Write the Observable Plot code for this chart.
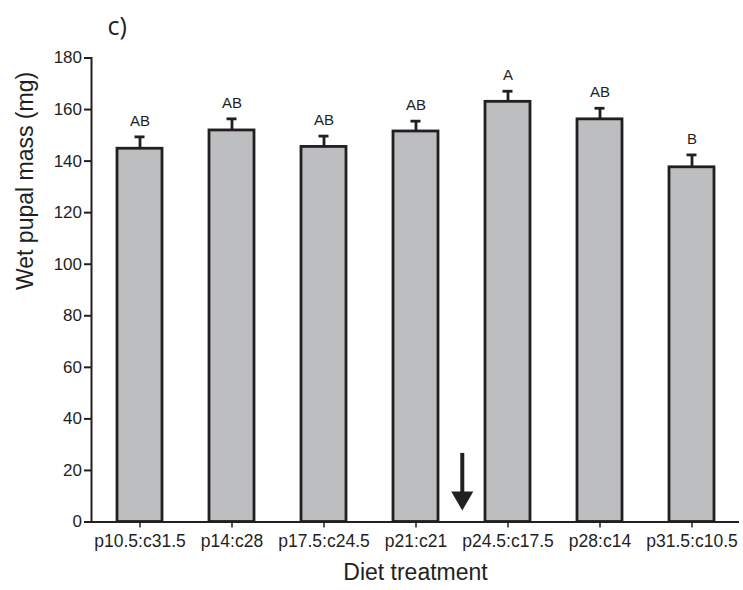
<!DOCTYPE html>
<html><head><meta charset="utf-8">
<script src="https://cdn.jsdelivr.net/npm/d3@7"></script>
<script src="https://cdn.jsdelivr.net/npm/@observablehq/plot@0.6"></script>
<style>
body{margin:0;background:#fff;}
#chart{width:743px;height:590px;}
</style></head><body><div id="chart"></div>
<script>
const treatments = ["p10.5:c31.5","p14:c28","p17.5:c24.5","p21:c21","p24.5:c17.5","p28:c14","p31.5:c10.5"];
const means = [144.8, 151.9, 145.5, 151.5, 163.0, 156.2, 137.6];
const errors = [4.6, 4.5, 4.2, 4.0, 4.1, 4.3, 4.8];
const letters = ["AB","AB","AB","AB","A","AB","B"];
const yTicks = [0,20,40,60,80,100,120,140,160,180];
const panelLabel = "c)";
const xTitle = "Diet treatment";
const yTitle = "Wet pupal mass (mg)";
// arrow drawn between the p21:c21 and p24.5:c17.5 bars
const arrowAfter = "p21:c21";
const arrowFrom = 26.6;
const arrowTo = 9.4;

const data = treatments.map((t, i) => ({t, mean: means[i], hi: means[i] + errors[i], letter: letters[i]}));
const arrow = [{t: arrowAfter, from: arrowFrom, to: arrowTo}];

const W = 743, H = 590, mL = 91, mR = 4, mT = 57.5, mB = 68.5;
const pIn = 0.514, pOut = 0.257;
const step = (W - mL - mR) / (treatments.length - pIn + 2 * pOut);
const bw = step * (1 - pIn);
const ink = "#231f20";

const chart = Plot.plot({
  width: W, height: H,
  marginTop: mT, marginBottom: mB, marginLeft: mL, marginRight: mR,
  style: {fontFamily: "'Liberation Sans', Arial, sans-serif", fontSize: "16px", color: ink, background: "#fff", overflow: "visible"},
  x: {domain: treatments, paddingInner: pIn, paddingOuter: pOut, label: null},
  y: {domain: [0, 180], label: null},
  marks: [
    Plot.barY(data, {x: "t", y: "mean", fill: "#bcbec0", stroke: ink, strokeWidth: 2.8}),
    Plot.ruleX(data, {x: "t", y1: "mean", y2: "hi", stroke: ink, strokeWidth: 2.8}),
    Plot.tickY(data, {x: "t", y: "hi", stroke: ink, strokeWidth: 2.8, inset: (bw - 10) / 2}),
    Plot.text(data, {x: "t", y: "hi", text: "letter", dy: -16, fontSize: 15, fill: ink}),
    Plot.ruleX(arrow, {x: "t", y1: "from", y2: "to", dx: step / 2, stroke: ink, strokeWidth: 4}),
    Plot.dot(arrow, {x: "t", y: "to", dx: step / 2, symbol: "triangle", rotate: 180, r: 8.2, fill: ink, stroke: "none"}),
    Plot.ruleY([0], {stroke: ink, strokeWidth: 2}),
    Plot.frame({anchor: "left", stroke: ink, strokeWidth: 2}),
    Plot.axisY({ticks: yTicks, tickSize: 7, tickPadding: 2.5, stroke: ink, strokeWidth: 2, fill: ink, fontSize: 17, label: null}),
    Plot.axisX({tickSize: 6, tickPadding: 7, stroke: ink, strokeWidth: 1.5, fill: ink, fontSize: 17.5, label: null}),
    Plot.text([xTitle], {frameAnchor: "bottom", dy: 58, fontSize: 23, fill: ink}),
    Plot.text([yTitle], {frameAnchor: "left", dx: -66, rotate: -90, fontSize: 23, fill: ink}),
    Plot.text([panelLabel], {frameAnchor: "top-left", dx: 16, dy: -23.5, textAnchor: "start", lineAnchor: "bottom", fontSize: 25, fontFamily: "'Open Sans', sans-serif", fill: ink})
  ]
});
document.getElementById("chart").appendChild(chart);
</script>
</body></html>
